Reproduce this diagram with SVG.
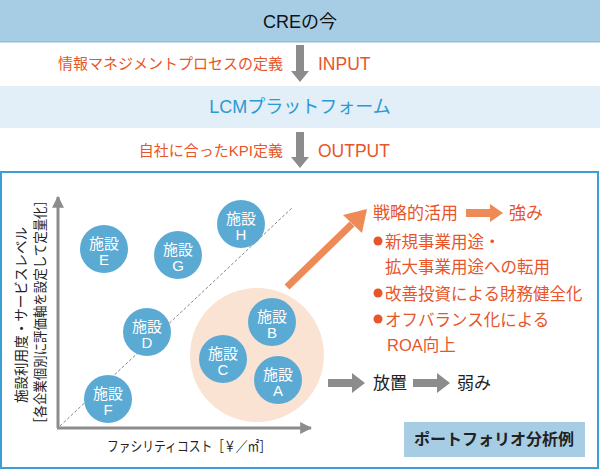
<svg xmlns="http://www.w3.org/2000/svg" width="600" height="472" viewBox="0 0 600 472">
<style>
text{font-family:"Liberation Sans","Noto Sans CJK JP",sans-serif;}
.or{fill:#e8552a;font-size:15px;}
.lat{font-size:17.5px;}
.node circle{fill:#5aaad4;}
.node text{fill:#fff;font-size:15px;text-anchor:middle;}
.rt{fill:#e8552a;font-size:16.5px;}
.hd{font-size:17px;}
.bk{fill:#222;font-size:17px;}
</style>
<defs>
<marker id="ga" viewBox="0 0 10 10" refX="9" refY="5" markerWidth="4" markerHeight="4" orient="auto" markerUnits="strokeWidth"><path d="M0,0 L10,5 L0,10 Z" fill="#8c8c8c"/></marker>
</defs>
<g id="top-bar">
<rect x="0" y="0" width="600" height="42" fill="#a6cde4"/>
<rect x="0" y="41" width="600" height="1.5" fill="#8fbfdc"/>
<text x="300" y="28" text-anchor="middle" font-size="18" fill="#111">CREの今</text>
</g>
<g id="lcm-bar">
<rect x="0" y="86" width="600" height="42" fill="#e2eef8"/>
<text x="300" y="113" text-anchor="middle" font-size="18" fill="#2a9ad0">LCMプラットフォーム</text>
</g>
<g id="connectors">
<path d="M296,45 H304 V71 H309 L300,82 L291,71 H296 Z" fill="#8c8c8c"/>
<path d="M296,132 H304 V157 H309 L300,168 L291,157 H296 Z" fill="#8c8c8c"/>
<line x1="58" y1="428" x2="58" y2="197" stroke="#8c8c8c" stroke-width="3" marker-end="url(#ga)"/>
<line x1="57" y1="428" x2="311" y2="428" stroke="#8c8c8c" stroke-width="3" marker-end="url(#ga)"/>
<line x1="60" y1="426" x2="293" y2="207" stroke="#888" stroke-width="1" stroke-dasharray="3,2"/>
<line x1="287" y1="287" x2="352" y2="224" stroke="#ee8a55" stroke-width="7"/>
<path d="M367,209 L362,233 L343,215 Z" fill="#ee8a55"/>
<path d="M466,209 H490 V204 L503,213 L490,222 V217 H466 Z" fill="#ee8a55"/>
<path d="M328,379 H352 V373 L365,383 L352,393 V387 H328 Z" fill="#8c8c8c"/>
<path d="M413,379 H437 V373 L450,383 L437,393 V387 H413 Z" fill="#8c8c8c"/>
</g>
<g id="labels">
<text class="or" x="283" y="69" text-anchor="end">情報マネジメントプロセスの定義</text>
<text class="or lat" x="318" y="70">INPUT</text>
<text class="or" x="283" y="156" text-anchor="end">自社に合ったKPI定義</text>
<text class="or lat" x="318" y="157">OUTPUT</text>
</g>
<g id="portfolio">
<rect x="1" y="172" width="597" height="296" fill="none" stroke="#3a9fd5" stroke-width="2"/>
<text transform="translate(26,315) rotate(-90)" text-anchor="middle" font-size="14" fill="#222" textLength="176" lengthAdjust="spacingAndGlyphs">施設利用度・サービスレベル</text>
<text transform="translate(45,312) rotate(-90)" text-anchor="middle" font-size="13.5" fill="#222" textLength="236" lengthAdjust="spacingAndGlyphs">［各企業個別に評価軸を設定して定量化］</text>
<text x="107" y="451" font-size="14" fill="#222" textLength="164" lengthAdjust="spacingAndGlyphs">ファシリティコスト［￥／㎡］</text>
<circle cx="257" cy="355" r="67" fill="#fbe3d3"/>
</g>
<g id="node-E" class="node"><circle cx="104" cy="249" r="24"/><text x="104" y="249">施設</text><text x="104" y="265">E</text></g>
<g id="node-G" class="node"><circle cx="178" cy="255" r="24"/><text x="178" y="255">施設</text><text x="178" y="271">G</text></g>
<g id="node-H" class="node"><circle cx="241" cy="224" r="24"/><text x="241" y="224">施設</text><text x="241" y="240">H</text></g>
<g id="node-D" class="node"><circle cx="147" cy="332" r="24"/><text x="147" y="332">施設</text><text x="147" y="348">D</text></g>
<g id="node-F" class="node"><circle cx="108" cy="399" r="24"/><text x="108" y="399">施設</text><text x="108" y="415">F</text></g>
<g id="node-C" class="node"><circle cx="223" cy="359" r="24"/><text x="223" y="359">施設</text><text x="223" y="375">C</text></g>
<g id="node-B" class="node"><circle cx="272" cy="322" r="24"/><text x="272" y="322">施設</text><text x="272" y="338">B</text></g>
<g id="node-A" class="node"><circle cx="278" cy="380" r="24"/><text x="278" y="380">施設</text><text x="278" y="396">A</text></g>
<g id="strategy">
<text class="rt hd" x="373" y="219">戦略的活用</text>
<text class="rt hd" x="509" y="219">強み</text>
<circle cx="378" cy="241" r="4.5" fill="#e8552a"/>
<text class="rt" x="385" y="248">新規事業用途・</text>
<text class="rt" x="385" y="273">拡大事業用途への転用</text>
<circle cx="378" cy="293" r="4.5" fill="#e8552a"/>
<text class="rt" x="385" y="300">改善投資による財務健全化</text>
<circle cx="378" cy="319" r="4.5" fill="#e8552a"/>
<text class="rt" x="385" y="326">オフバランス化による</text>
<text class="rt" x="387" y="351">ROA向上</text>
<text class="bk" x="373" y="389">放置</text>
<text class="bk" x="457" y="389">弱み</text>
</g>
<g id="legend">
<rect x="404" y="422" width="181" height="35" fill="#a6cde4"/>
<text x="494" y="445" text-anchor="middle" font-size="16" font-weight="bold" fill="#222">ポートフォリオ分析例</text>
</g>
</svg>
